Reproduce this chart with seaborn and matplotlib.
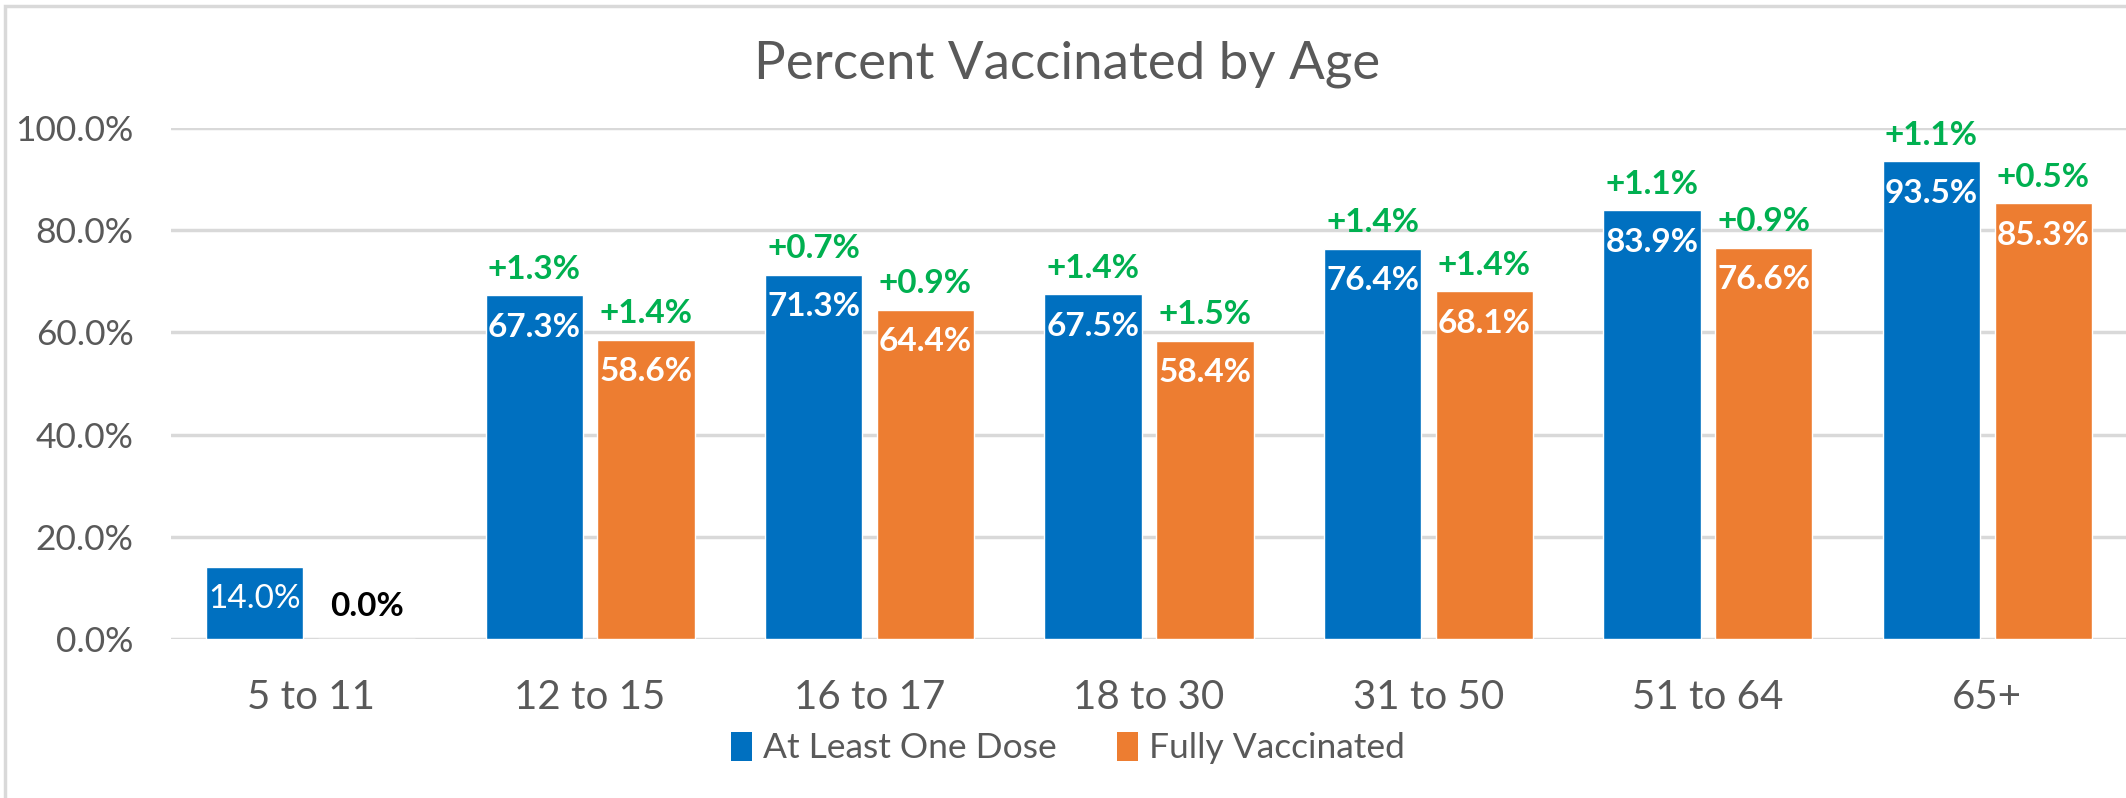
import pandas as pd
import seaborn as sns
import matplotlib.pyplot as plt
from matplotlib.patches import Rectangle, Patch

# data
ages = ["5 to 11", "12 to 15", "16 to 17", "18 to 30", "31 to 50", "51 to 64", "65+"]
series = ["At Least One Dose", "Fully Vaccinated"]
one_dose = [14.0, 67.3, 71.3, 67.5, 76.4, 83.9, 93.5]
fully_vax = [0.0, 58.6, 64.4, 58.4, 68.1, 76.6, 85.3]
one_dose_change = [None, 1.3, 0.7, 1.4, 1.4, 1.1, 1.1]
fully_vax_change = [None, 1.4, 0.9, 1.5, 1.4, 0.9, 0.5]
yticks = [0, 20, 40, 60, 80, 100]

colors = ["#0070C0", "#ED7D31"]
green = "#00B050"
gray_text = "#595959"
grid_col = "#D9D9D9"

df = pd.DataFrame({
    "age": ages * 2,
    "series": [series[0]] * len(ages) + [series[1]] * len(ages),
    "value": one_dose + fully_vax,
})

sns.set_theme(style="white")
plt.rcParams['font.family'] = ['Lato', 'DejaVu Sans']

W, H = 2126, 798
fig = plt.figure(figsize=(W / 100, H / 100), dpi=100)
ax = fig.add_axes([171 / W, 159 / H, 1956 / W, 511 / H])

sns.barplot(data=df, x="age", y="value", hue="series", hue_order=series,
            palette=colors, width=0.8, gap=0.13, saturation=1,
            legend=False, ax=ax)

ax.set_xlim(-0.5, 6.5)
ax.set_ylim(0, 100)
ax.set_yticks(yticks)
ax.set_yticklabels([f"{t:.1f}%" for t in yticks])
ax.yaxis.grid(True, color=grid_col, lw=2.5)
ax.set_axisbelow(True)
for s in ax.spines.values():
    s.set_visible(False)
ax.set_xlabel("")
ax.set_ylabel("")
ax.tick_params(axis="y", length=0, pad=27, labelsize=25.5, labelcolor=gray_text)
ax.tick_params(axis="x", length=0, pad=29, labelsize=29, labelcolor=gray_text)

changes = [one_dose_change, fully_vax_change]
for k, cont in enumerate(ax.containers):
    for j, bar in enumerate(cont):
        v = bar.get_height()
        xc = bar.get_x() + bar.get_width() / 2
        if v > 0:
            ax.annotate(f"{v:.1f}%", (xc, v), xytext=(0, -32), textcoords="offset pixels",
                        ha="center", va="center", color="white", fontsize=24,
                        fontweight="normal" if v < 20 else "bold")
        else:
            ax.annotate(f"{v:.1f}%", (xc, v), xytext=(0, 32), textcoords="offset pixels",
                        ha="center", va="center", color="black", fontsize=24,
                        fontweight="bold")
        c = changes[k][j]
        if c is not None:
            ax.annotate(f"+{c:.1f}%", (xc, v), xytext=(0, 26), textcoords="offset pixels",
                        ha="center", va="center", color=green, fontsize=24,
                        fontweight="bold", annotation_clip=False)

fig.text(1067 / W, 1 - 64 / H, "Percent Vaccinated by Age", ha="center", va="center",
         fontsize=38, color=gray_text)

handles = [Patch(facecolor=c, edgecolor="none") for c in colors]
fig.legend(handles, series, loc="center", bbox_to_anchor=(1068 / W, 1 - 748 / H),
           ncol=2, frameon=False, fontsize=25.5, handlelength=0.6, handleheight=0.9,
           handletextpad=0.3, columnspacing=1.7, labelcolor=gray_text)

# chart border
fig.add_artist(Rectangle((5 / W, -0.5), 2, 1.5 - 6 / H, transform=fig.transFigure,
                         fill=False, ec=grid_col, lw=2.5))

fig.savefig("out.png", dpi=100)
